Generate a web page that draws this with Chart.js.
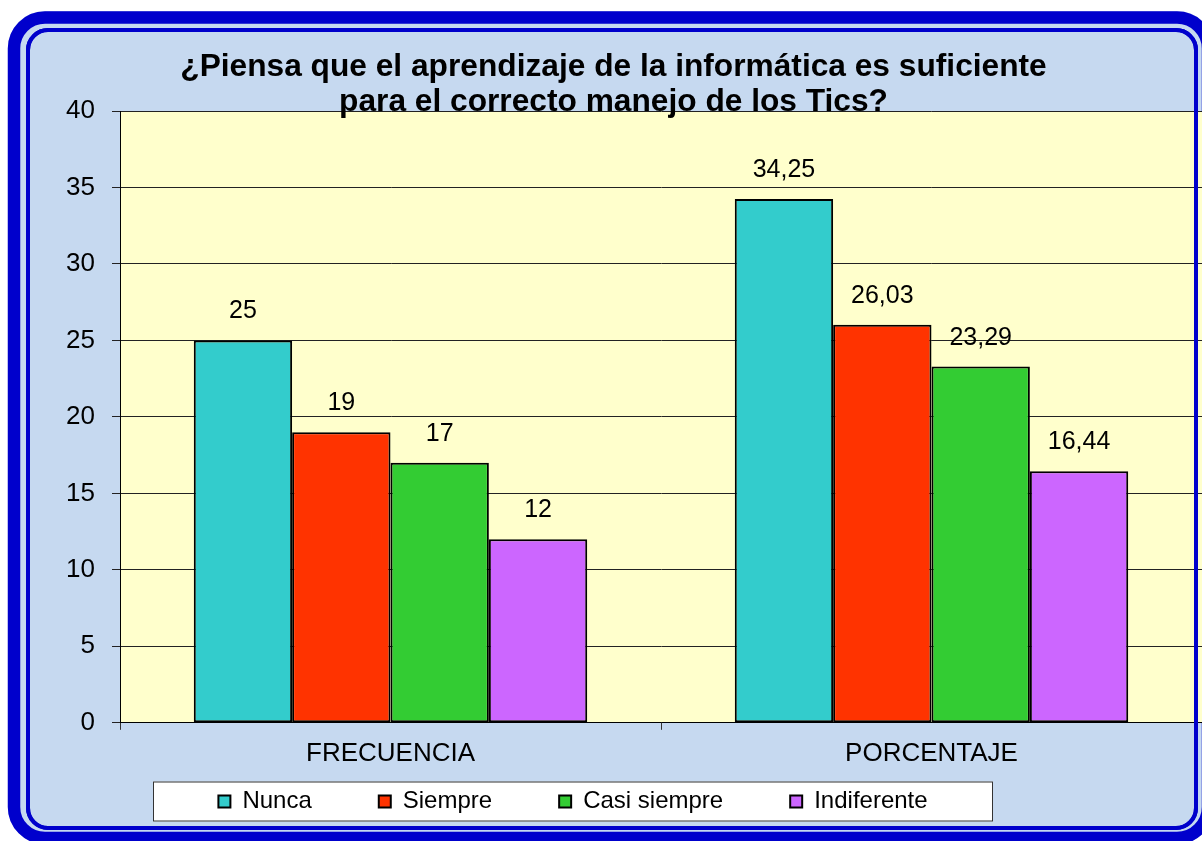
<!DOCTYPE html>
<html>
<head>
<meta charset="utf-8">
<script src="https://cdn.jsdelivr.net/npm/chart.js@4/dist/chart.umd.min.js"></script>
<style>
  html, body { margin: 0; padding: 0; background: #ffffff; }
  #wrap { width: 1202px; height: 841px; }
</style>
</head>
<body>
<div id="wrap"><canvas id="c" width="1202" height="841"></canvas></div>
<script>
// ---- data ----
const categories = ['FRECUENCIA', 'PORCENTAJE'];
const seriesNames = ['Nunca', 'Siempre', 'Casi siempre', 'Indiferente'];
const nunca = [25, 34.25];
const siempre = [19, 26.03];
const casiSiempre = [17, 23.29];
const indiferente = [12, 16.44];
const yMin = 0, yMax = 40, yStep = 5;
const titleLines = ['¿Piensa que el aprendizaje de la informática es suficiente', 'para el correcto manejo de los Tics?'];

// ---- styles ----
const seriesColors = ['#33CCCC', '#FF3300', '#33CC33', '#CC66FF'];
const FONT = 'Arial, "Liberation Sans", Helvetica, sans-serif';
const BG = '#C6D9F0';
const FRAME = '#0000CC';
const PLOT_BG = '#FFFFCC';

function rr(ctx, x, y, w, h, r) {
  ctx.beginPath();
  ctx.moveTo(x + r, y);
  ctx.lineTo(x + w - r, y);
  ctx.arcTo(x + w, y, x + w, y + r, r);
  ctx.lineTo(x + w, y + h - r);
  ctx.arcTo(x + w, y + h, x + w - r, y + h, r);
  ctx.lineTo(x + r, y + h);
  ctx.arcTo(x, y + h, x, y + h - r, r);
  ctx.lineTo(x, y + r);
  ctx.arcTo(x, y, x + r, y, r);
  ctx.closePath();
}

const framePlugin = {
  id: 'frame',
  afterLayout(chart) {
    const lg = chart.legend;
    if (lg) {
      lg.left = 146; lg.right = 1000; lg.width = lg.right - lg.left;
      lg.top = 722.5; lg.bottom = 841; lg.height = lg.bottom - lg.top;
    }
  },
  beforeDraw(chart) {
    const ctx = chart.ctx;
    ctx.save();
    ctx.fillStyle = '#ffffff';
    ctx.fillRect(0, 0, chart.width, chart.height);
    rr(ctx, 8, 11, 1206, 833, 37);
    ctx.fillStyle = BG;
    ctx.fill();
    rr(ctx, 14, 17.5, 1194, 820.5, 31);
    ctx.lineWidth = 12.5;
    ctx.strokeStyle = FRAME;
    ctx.stroke();
    rr(ctx, 28, 30, 1168, 798, 20);
    ctx.lineWidth = 4;
    ctx.stroke();
    // plot area
    const a = chart.chartArea;
    ctx.fillStyle = PLOT_BG;
    ctx.fillRect(a.left, a.top, a.right - a.left, a.bottom - a.top);
    // legend box
    const lg = chart.legend;
    const pad = lg.options.labels.padding;
    const cy = lg.top + pad + 12;
    ctx.fillStyle = '#ffffff';
    ctx.fillRect(lg.left + 7, cy - 20, lg.right - lg.left - 14, 40);
    ctx.lineWidth = 1;
    ctx.strokeStyle = '#333333';
    ctx.strokeRect(lg.left + 7.5, cy - 19.5, lg.right - lg.left - 15, 39);
    ctx.restore();
  },
  afterDraw(chart) {
    const ctx = chart.ctx;
    ctx.save();
    rr(ctx, 28, 30, 1168, 798, 20);
    ctx.lineWidth = 4;
    ctx.strokeStyle = FRAME;
    ctx.stroke();
    ctx.restore();
  }
};

const valueLabels = {
  id: 'valueLabels',
  afterDatasetsDraw(chart) {
    const ctx = chart.ctx;
    ctx.save();
    ctx.font = '25px ' + FONT;
    ctx.fillStyle = '#000000';
    ctx.textAlign = 'center';
    ctx.textBaseline = 'alphabetic';
    chart.data.datasets.forEach((ds, i) => {
      const meta = chart.getDatasetMeta(i);
      meta.data.forEach((el, j) => {
        const txt = String(ds.data[j]).replace('.', ',');
        ctx.fillText(txt, el.x, el.y - 22);
      });
    });
    ctx.restore();
  }
};

const seriesData = [nunca, siempre, casiSiempre, indiferente];

new Chart(document.getElementById('c'), {
  type: 'bar',
  data: {
    labels: categories,
    datasets: seriesNames.map((name, i) => ({
      label: name,
      data: seriesData[i],
      backgroundColor: seriesColors[i],
      borderColor: '#000000',
      borderWidth: 2,
      borderSkipped: false,
      categoryPercentage: 4 / 5.5,
      barPercentage: 1.0
    }))
  },
  options: {
    responsive: false,
    animation: false,
    devicePixelRatio: 1,
    layout: { padding: { left: 25, right: 0, top: 0, bottom: 9 } },
    plugins: {
      title: {
        display: true,
        text: titleLines,
        color: '#000000',
        font: { family: FONT, size: 31.7, weight: 'bold', lineHeight: 35 / 31.7 },
        padding: { top: 50, bottom: -9 }
      },
      legend: {
        display: true,
        position: 'bottom',
        maxHeight: 55,
        labels: {
          color: '#000000',
          font: { family: FONT, size: 24 },
          boxWidth: 12,
          boxHeight: 12,
          padding: 67
        }
      },
      tooltip: { enabled: false }
    },
    scales: {
      x: {
        type: 'category',
        offset: true,
        grid: { display: true, offset: true, drawOnChartArea: false, drawTicks: true, tickLength: 7, color: '#333333', tickColor: '#333333' },
        border: { display: true, color: '#000000', width: 1 },
        ticks: { color: '#000000', font: { family: FONT, size: 26 }, padding: 8, maxRotation: 0 }
      },
      y: {
        min: yMin,
        max: yMax,
        afterFit(scale) { scale.width = 95; },
        grid: { color: '#222222', tickColor: '#222222', tickLength: 8, lineWidth: 1 },
        border: { display: true, color: '#000000', width: 1 },
        ticks: { stepSize: yStep, color: '#000000', font: { family: FONT, size: 26 }, padding: 17 }
      }
    }
  },
  plugins: [framePlugin, valueLabels]
});
</script>
</body>
</html>
